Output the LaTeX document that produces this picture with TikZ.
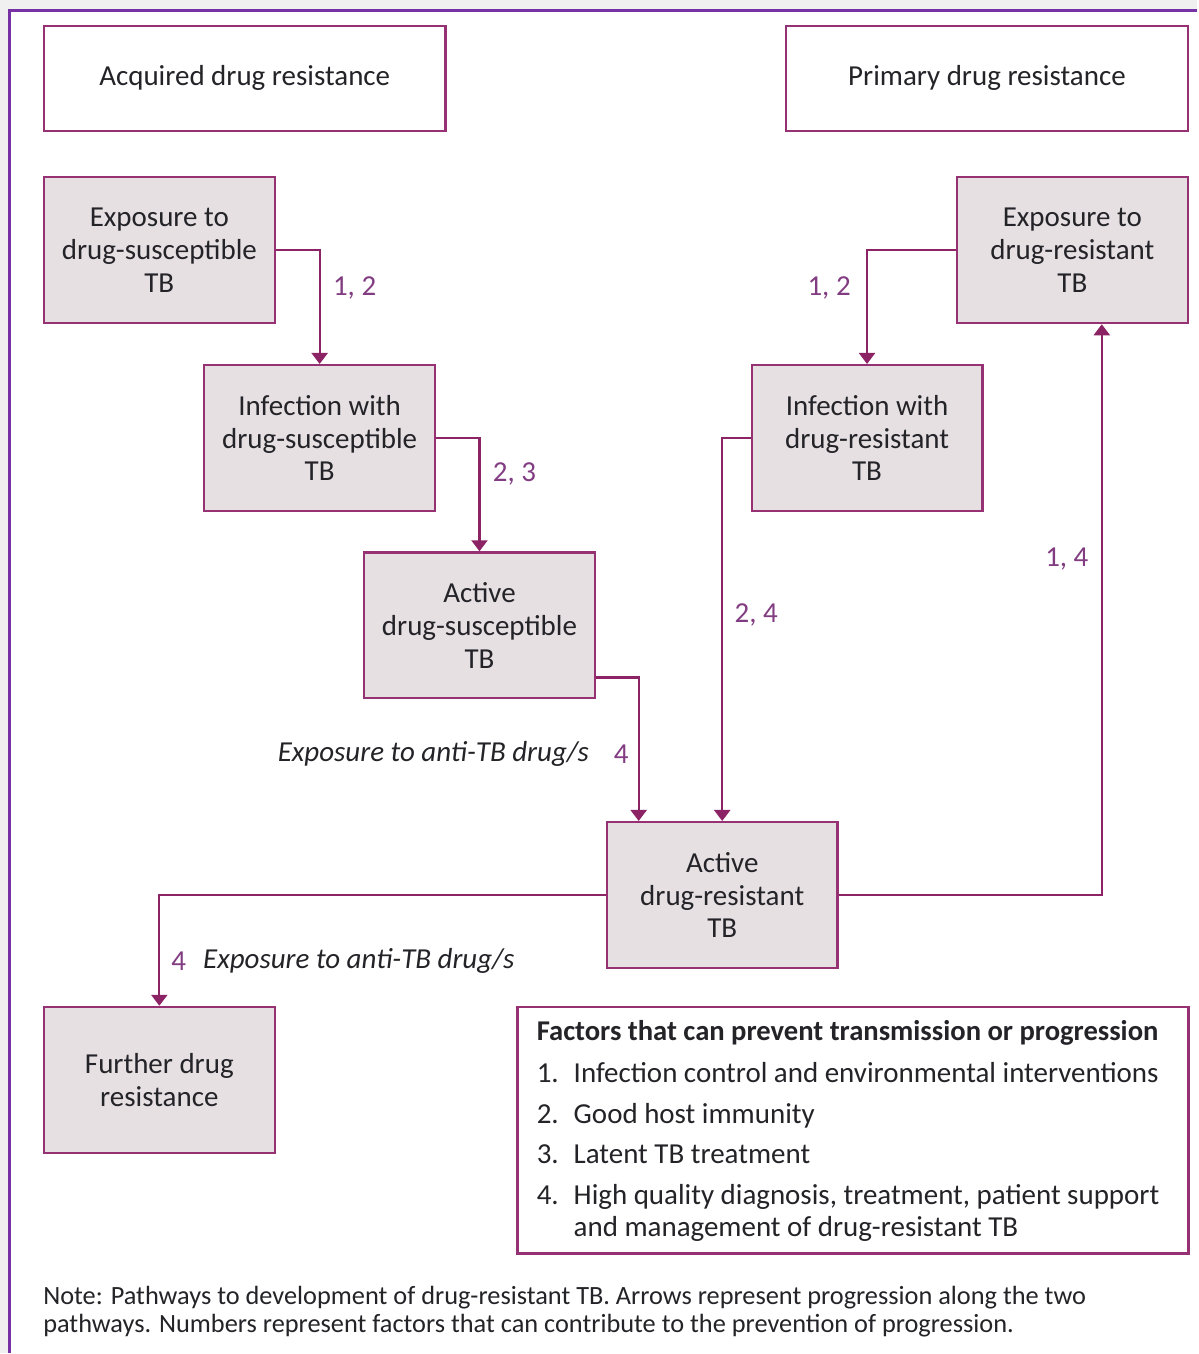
\documentclass[tikz,border=0pt]{standalone}
\usepackage{fontspec}
\setmainfont{Carlito}
\usetikzlibrary{arrows.meta,positioning}

\definecolor{framepurple}{RGB}{118,50,165}
\definecolor{boxline}{RGB}{150,50,115}
\definecolor{arrowline}{RGB}{140,35,100}
\definecolor{boxfill}{RGB}{230,224,227}
\definecolor{numpurple}{RGB}{130,60,130}
\definecolor{textgray}{RGB}{35,35,40}
\definecolor{pagegray}{RGB}{240,240,240}

\tikzset{
  headbox/.style={draw=boxline, line width=1.3pt, fill=white, minimum width=8.04cm, minimum height=2.1cm, text=textgray, font=\fontsize{16.5}{19}\selectfont},
  stagebox/.style={draw=boxline, line width=1.3pt, fill=boxfill, minimum width=4.62cm, minimum height=2.92cm, align=center, text=textgray, font=\fontsize{16.5}{18.7}\selectfont},
  arr/.style={draw=arrowline, line width=1.3pt, -{Triangle[width=0.32cm,length=0.22cm]}},
  num/.style={text=numpurple, inner sep=0pt, font=\fontsize{16.5}{19}\selectfont},
  drugnote/.style={text=textgray, inner sep=0pt, font=\fontsize{16.5}{19}\selectfont\itshape},
  factor/.style={text=textgray, inner sep=0pt, anchor=base west, font=\fontsize{16.5}{19}\selectfont},
  notetext/.style={text=textgray, inner sep=0pt, anchor=base west, font=\fontsize{15}{17}\selectfont},
}

\begin{document}
\begin{tikzpicture}[x=0.02cm,y=-0.02cm]
    %page and frame
    \fill[pagegray] (0,0) rectangle (1198,1354);
    \fill[white] (10,11) rectangle (1198,1354);
    \draw[framepurple, line width=1.7pt] (10,1354) -- (10,11) -- (1198,11);
    \useasboundingbox (0,0) rectangle (1198,1354);

    %headings
    \node[headbox] (acqhead) at (245,78.5) {Acquired drug resistance};
    \node[headbox] (primhead) at (988,78.5) {Primary drug resistance};

    %blocks
    \node[stagebox] (expSus) at (159.5,250.5) {Exposure to\\drug-susceptible\\TB};
    \node[stagebox] (infSus) at (320,438.5) {Infection with\\drug-susceptible\\TB};
    \node[stagebox] (actSus) at (480,626) {Active\\drug-susceptible\\TB};
    \node[stagebox] (expRes) at (1073.5,250.5) {Exposure to\\drug-resistant\\TB};
    \node[stagebox] (infRes) at (868,438.5) {Infection with\\drug-resistant\\TB};
    \node[stagebox] (actRes) at (723,896) {Active\\drug-resistant\\TB};
    \node[stagebox] (further) at (159.5,1081) {Further drug\\resistance};

    %arrows
    \draw[arr] (expSus.east) -| (infSus.north);
    \draw[arr] (infSus.east) -| (actSus.north);
    \draw[arr] ([yshift=0.44cm]actSus.south east) -| ([xshift=0.66cm]actRes.north west);
    \draw[arr] (expRes.west) -| (infRes.north);
    \draw[arr] (infRes.west) -| (actRes.north);
    \draw[arr] (actRes.east) -| ([xshift=0.59cm]expRes.south);
    \draw[arr] (actRes.west) -| (further.north);

    %labels
    \node[num] (numA) at (355,288) {1, 2};
    \node[num] (numB) at (515,474) {2, 3};
    \node[num] (numC) at (622,755) {4};
    \node[drugnote, anchor=east] (drugC) at (590,755) {Exposure to anti-TB drug/s};
    \node[num] (numF) at (830,288) {1, 2};
    \node[num] (numD) at (757,616) {2, 4};
    \node[num] (numE) at (1068,560) {1, 4};
    \node[num] (numG) at (179,962) {4};
    \node[drugnote, anchor=west] (drugG) at (203,962) {Exposure to anti-TB drug/s};

    %factors box
    \node[draw=boxline, line width=1.3pt, fill=white, minimum width=13.44cm, minimum height=4.94cm] (factors) at (854,1131.5) {};
    \node[factor, font=\fontsize{16.3}{19}\selectfont\bfseries] (ftitle) at (537,1042) {Factors that can prevent transmission or progression};
    \node[factor] (fnum1) at (537,1084) {1.};
    \node[factor] (fitem1) at (574,1084) {Infection control and environmental interventions};
    \node[factor] (fnum2) at (537,1125) {2.};
    \node[factor] (fitem2) at (574,1125) {Good host immunity};
    \node[factor] (fnum3) at (537,1165) {3.};
    \node[factor] (fitem3) at (574,1165) {Latent TB treatment};
    \node[factor] (fnum4) at (537,1206) {4.};
    \node[factor] (fitem4) at (574,1206) {High quality diagnosis, treatment, patient support};
    \node[factor] (fitem4b) at (574,1238) {and management of drug-resistant TB};

    %note
    \node[notetext] (note1) at (43,1306) {Note: Pathways to development of drug-resistant TB. Arrows represent progression along the two};
    \node[notetext] (note2) at (43,1334) {pathways. Numbers represent factors that can contribute to the prevention of progression.};
\end{tikzpicture}
\end{document}
